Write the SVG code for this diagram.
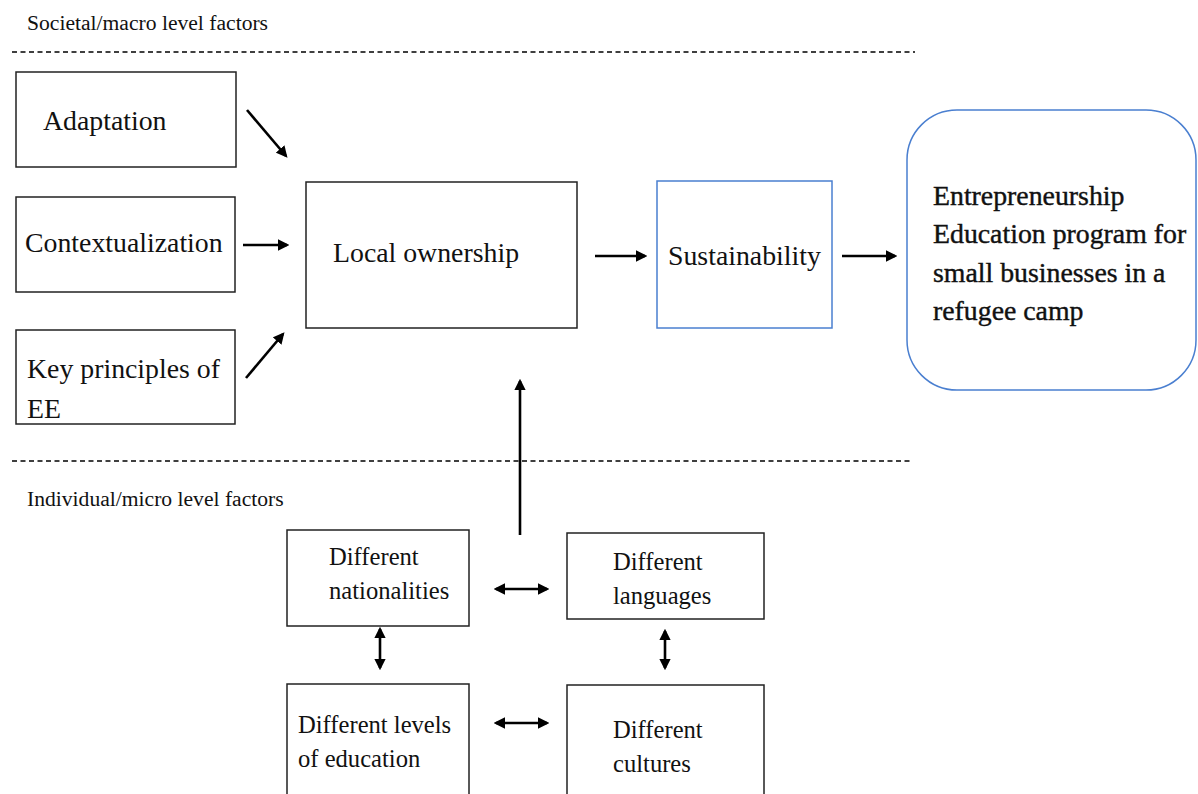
<svg xmlns="http://www.w3.org/2000/svg" width="1198" height="794" viewBox="0 0 1198 794">
<style>
text{font-family:"Liberation Serif","DejaVu Serif","Times New Roman",serif;fill:#111}
.box{fill:#fff;stroke:#222;stroke-width:1.5}
.blue{fill:#fff;stroke:#4a7fd0;stroke-width:1.5}
.dash{stroke:#000;stroke-width:1.3;stroke-dasharray:5 3.5;fill:none}
.arr{stroke:#000;stroke-width:2.6;fill:none}
.big{font-size:27.8px}
.mid{font-size:24.6px}
.lbl{font-size:21.6px}
</style>
<defs>
<marker id="ah" viewBox="0 0 10 10" refX="8" refY="5" markerWidth="4.4" markerHeight="4.4" orient="auto-start-reverse">
<path d="M0,0 L10,5 L0,10 z" fill="#000"/>
</marker>
</defs>
<rect width="1198" height="794" fill="#fff"/>
<text class="lbl" x="27" y="30">Societal/macro level factors</text>
<line class="dash" x1="12" y1="52" x2="915" y2="52"/>
<line class="dash" x1="12" y1="461" x2="910" y2="461"/>
<text class="lbl" x="27" y="506">Individual/micro level factors</text>

<g id="adaptation"><rect class="box" x="16" y="72" width="220" height="95"/><text class="big" x="43" y="130">Adaptation</text></g>
<g id="contextualization"><rect class="box" x="16" y="197" width="219" height="95"/><text class="big" x="25" y="252">Contextualization</text></g>
<g id="keyprinciples"><rect class="box" x="16" y="330" width="219" height="94"/><text class="big" x="27" y="378">Key principles of</text><text class="big" x="27" y="418">EE</text></g>
<g id="localownership"><rect class="box" x="306" y="182" width="271" height="146"/><text class="big" x="333" y="262">Local ownership</text></g>
<g id="sustainability"><rect class="blue" x="657" y="181" width="175" height="147"/><text class="big" x="668" y="265">Sustainability</text></g>
<g id="ee"><rect class="blue" x="907" y="110" width="289" height="280" rx="50" ry="50"/>
<text class="big" x="933" y="205" stroke="#111" stroke-width="0.4">Entrepreneurship</text>
<text class="big" x="933" y="243" stroke="#111" stroke-width="0.4">Education program for</text>
<text class="big" x="933" y="282" stroke="#111" stroke-width="0.4">small businesses in a</text>
<text class="big" x="933" y="320" stroke="#111" stroke-width="0.4">refugee camp</text></g>

<g id="nationalities"><rect class="box" x="287" y="530" width="182" height="96"/><text class="mid" x="329" y="565">Different</text><text class="mid" x="329" y="599">nationalities</text></g>
<g id="languages"><rect class="box" x="567" y="533" width="197" height="86"/><text class="mid" x="613" y="570">Different</text><text class="mid" x="613" y="604">languages</text></g>
<g id="education"><rect class="box" x="287" y="684" width="182" height="120"/><text class="mid" x="298" y="733">Different levels</text><text class="mid" x="298" y="767">of education</text></g>
<g id="cultures"><rect class="box" x="567" y="685" width="197" height="120"/><text class="mid" x="613" y="738">Different</text><text class="mid" x="613" y="772">cultures</text></g>

<g id="connectors">
<line class="arr" x1="247" y1="110" x2="286" y2="156" marker-end="url(#ah)"/>
<line class="arr" x1="243" y1="245" x2="287" y2="245" marker-end="url(#ah)"/>
<line class="arr" x1="246" y1="378" x2="283" y2="334" marker-end="url(#ah)"/>
<line class="arr" x1="595" y1="256" x2="645" y2="256" marker-end="url(#ah)"/>
<line class="arr" x1="842" y1="256" x2="895" y2="256" marker-end="url(#ah)"/>
<line class="arr" x1="520" y1="535" x2="520" y2="381" marker-end="url(#ah)"/>
<line class="arr" x1="496" y1="589" x2="547" y2="589" marker-start="url(#ah)" marker-end="url(#ah)"/>
<line class="arr" x1="496" y1="723" x2="547" y2="723" marker-start="url(#ah)" marker-end="url(#ah)"/>
<line class="arr" x1="380" y1="629" x2="380" y2="668" marker-start="url(#ah)" marker-end="url(#ah)"/>
<line class="arr" x1="665" y1="631" x2="665" y2="668" marker-start="url(#ah)" marker-end="url(#ah)"/>
</g>
</svg>
